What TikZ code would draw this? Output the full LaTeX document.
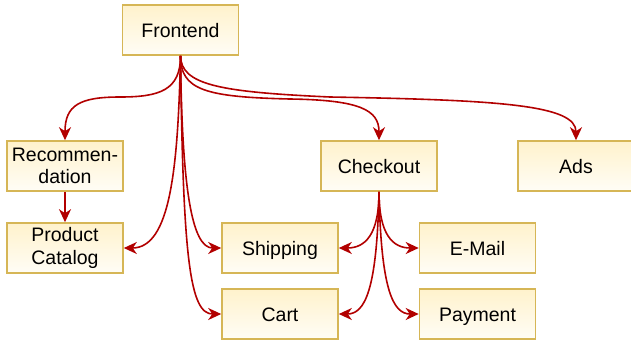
\documentclass[tikz,border=0pt]{standalone}
\usepackage{fontspec}
\setmainfont{Liberation Sans}
\usetikzlibrary{arrows.meta}

\definecolor{boxtop}{RGB}{255,242,204}
\definecolor{boxbottom}{RGB}{255,253,246}
\definecolor{boxline}{RGB}{214,182,86}
\definecolor{linkred}{RGB}{178,0,0}

\tikzset{
  service/.style={draw=boxline, line width=1.6pt, top color=boxtop, bottom color=boxbottom,
    minimum width=116pt, minimum height=50pt, inner sep=2pt, align=center,
    font=\fontsize{19.5}{22.5}\selectfont},
  oneline/.style={text height=17.5pt, text depth=2.5pt},
  link/.style={draw=linkred, line width=1.6pt,
    -{Stealth[length=13pt,width=12pt,inset=4pt]}},
}

\begin{document}
\begin{tikzpicture}[x=1pt,y=-1pt]
\useasboundingbox (0,0) rectangle (631,341);

% services
\node[service,oneline] (fe)   at (180.5,30)  {Frontend};
\node[service]         (rec)  at (65,166)    {Recommen-\\dation};
\node[service]         (cat)  at (65,248)    {Product\\Catalog};
\node[service,oneline] (ship) at (280,248)   {Shipping};
\node[service,oneline] (cart) at (280,314)   {Cart};
\node[service,oneline] (co)   at (379,166)   {Checkout};
\node[service,oneline] (ads)  at (576,166)   {Ads};
\node[service,oneline] (mail) at (477.5,248) {E-Mail};
\node[service,oneline] (pay)  at (477.5,314) {Payment};

% calls made by the frontend
\coordinate (fs) at (fe.south);
\draw[link] (fs) .. controls (180.5,90) and (160,97) .. (120,97)
                 .. controls (80,97) and (65,105) .. (rec.north);
\draw[link] (fs) .. controls (178,170) and (170,248) .. (cat.east);
\draw[link] (fs) .. controls (182,190) and (192,248) .. (ship.west);
\draw[link] (fs) .. controls (183,260) and (190,314) .. (cart.west);
\draw[link] (fs) .. controls (180.5,90) and (205,97) .. (290,99)
                 .. controls (360,100) and (379,110) .. (co.north);
\draw[link] (fs) .. controls (181,85) and (220,92) .. (330,97)
                 .. controls (500,100) and (576,105) .. (ads.north);

% recommendation uses the catalog
\draw[link] (rec.south) -- (cat.north);

% calls made by checkout
\coordinate (cs) at (co.south);
\draw[link] (cs) .. controls (379,235) and (365,248) .. (ship.east);
\draw[link] (cs) .. controls (379,235) and (393,248) .. (mail.west);
\draw[link] (cs) .. controls (377,290) and (365,314) .. (cart.east);
\draw[link] (cs) .. controls (381,290) and (393,314) .. (pay.west);
\end{tikzpicture}
\end{document}
